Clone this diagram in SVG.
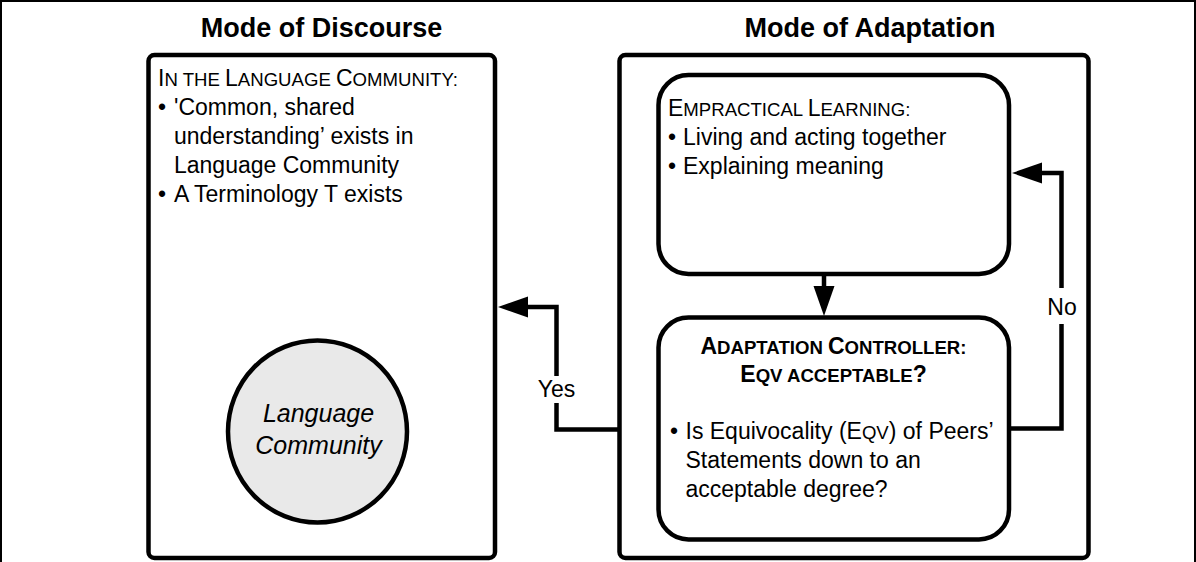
<svg xmlns="http://www.w3.org/2000/svg" width="1196" height="562" viewBox="0 0 1196 562">
<defs>
<style>
text{font-family:"Liberation Sans",Arial,Helvetica,sans-serif;fill:#000}
.title{font-size:27px;font-weight:bold;text-anchor:middle}
.body{font-size:23px}
.sc{font-size:18.6px}
.bold{font-weight:bold}
.mid{text-anchor:middle}
.box{fill:#fff;stroke:#000;stroke-width:4.5}
.conn{fill:none;stroke:#000;stroke-width:4.5}
.lblbg{fill:#fff;stroke:none}
.lbl{font-size:23px;text-anchor:middle}
.it{font-style:italic;font-size:25px;text-anchor:middle}
</style>
<marker id="arr" markerUnits="userSpaceOnUse" markerWidth="31" markerHeight="22" refX="0" refY="10.5" orient="auto">
<path d="M0,0 L30,10.5 L0,21 Z" fill="#000"/>
</marker>
</defs>
<rect x="1" y="1" width="1194" height="620" fill="#fff" stroke="#000" stroke-width="2"/>

<g id="discourse">
<text class="title" x="321.5" y="37">Mode of Discourse</text>
<rect class="box" x="148.5" y="55" width="346.5" height="503" rx="6"/>
<text class="body" x="158" y="86">I<tspan class="sc">N THE </tspan>L<tspan class="sc">ANGUAGE </tspan>C<tspan class="sc">OMMUNITY:</tspan></text>
<text class="body" x="158" y="115">•</text>
<text class="body" x="174" y="115">'Common, shared</text>
<text class="body" x="174" y="144">understanding’ exists in</text>
<text class="body" x="174" y="173">Language Community</text>
<text class="body" x="158" y="202">•</text>
<text class="body" x="174" y="202">A Terminology T exists</text>
</g>

<g id="language-community">
<ellipse cx="317.5" cy="431.5" rx="89.5" ry="91" fill="#e9e9e9" stroke="#000" stroke-width="4.5"/>
<text class="it" x="318.5" y="422">Language</text>
<text class="it" x="318.5" y="454">Community</text>
</g>

<g id="adaptation">
<text class="title" x="870" y="37">Mode of Adaptation</text>
<rect class="box" x="619.5" y="55" width="469" height="503" rx="6"/>
</g>

<g id="empractical">
<rect class="box" x="658.5" y="75" width="350.5" height="199" rx="30"/>
<text class="body" x="668" y="116">E<tspan class="sc">MPRACTICAL </tspan>L<tspan class="sc">EARNING:</tspan></text>
<text class="body" x="668" y="145">•</text>
<text class="body" x="683" y="145">Living and acting together</text>
<text class="body" x="668" y="174">•</text>
<text class="body" x="683" y="174">Explaining meaning</text>
</g>

<g id="controller">
<rect class="box" x="658.5" y="317.5" width="350.5" height="222" rx="30"/>
<text class="body bold mid" x="833.5" y="354">A<tspan class="sc">DAPTATION </tspan>C<tspan class="sc">ONTROLLER:</tspan></text>
<text class="body bold mid" x="833.5" y="382">E<tspan class="sc">QV ACCEPTABLE</tspan>?</text>
<text class="body" x="670" y="439">•</text>
<text class="body" x="685.5" y="439">Is Equivocality (E<tspan class="sc">QV</tspan>) of Peers’</text>
<text class="body" x="685.5" y="468">Statements down to an</text>
<text class="body" x="685.5" y="497">acceptable degree?</text>
</g>

<g id="connectors">
<path class="conn" d="M824,276 V286" marker-end="url(#arr)"/>
<path class="conn" d="M1009,428.5 H1061.5 V173 H1042" marker-end="url(#arr)"/>
<path class="conn" d="M619.5,429.5 H556.5 V307 H528" marker-end="url(#arr)"/>
<rect class="lblbg" x="1046" y="288" width="32" height="36"/>
<text class="lbl" x="1062" y="315">No</text>
<rect class="lblbg" x="536" y="376" width="42" height="27"/>
<text class="lbl" x="556.5" y="397">Yes</text>
</g>
</svg>
